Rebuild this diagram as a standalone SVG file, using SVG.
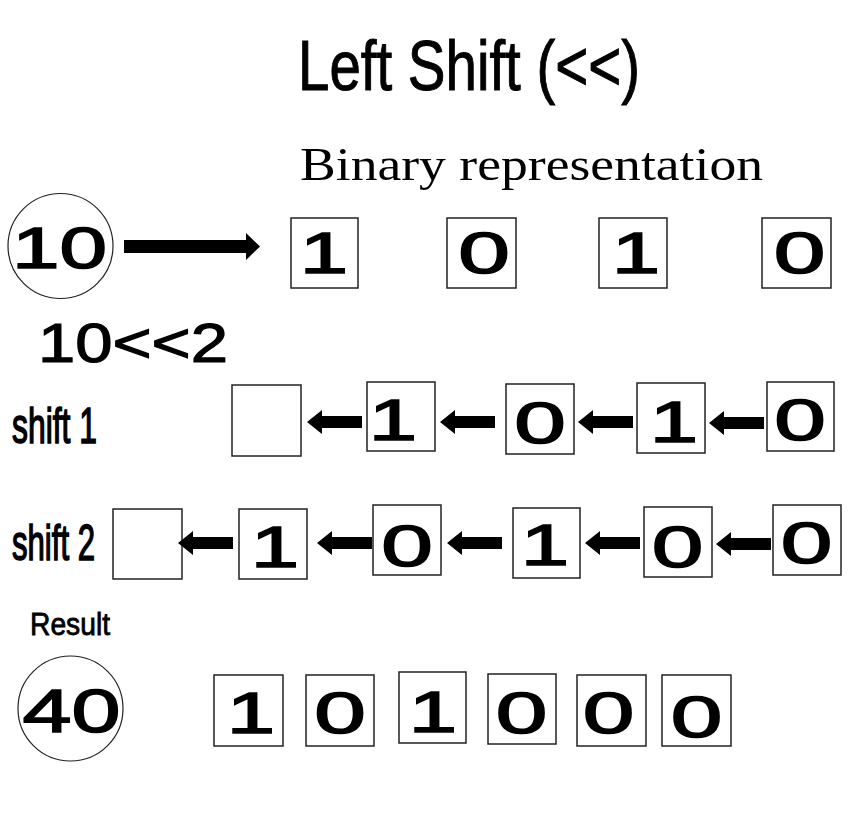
<svg xmlns="http://www.w3.org/2000/svg" width="867" height="823" viewBox="0 0 867 823">
<style>
.box{fill:#fff;stroke:#222;stroke-width:1.5}
.circ{fill:#fff;stroke:#222;stroke-width:1.2}
.d{font-family:"Liberation Sans",Arial,sans-serif;font-size:58px;text-anchor:middle;fill:#000;stroke:#000;stroke-width:1.5}
.lbl{font-family:"Liberation Sans",Arial,sans-serif;fill:#000}
.arr{fill:#000}
</style>
<defs>
<path id="la" d="M0,0 L15,-12 L15,-6 L55,-6 L55,6 L15,6 L15,12 Z"/>
</defs>
<rect width="867" height="823" fill="#fff"/>

<text id="title" class="lbl" x="298" y="90" font-size="70" stroke="#000" stroke-width="1" textLength="342" lengthAdjust="spacingAndGlyphs">Left Shift (&lt;&lt;)</text>
<text id="subtitle" x="300" y="180" font-family="'Liberation Serif','Times New Roman',serif" font-size="46" fill="#000" textLength="463" lengthAdjust="spacingAndGlyphs">Binary representation</text>

<g id="input">
<circle class="circ" cx="60.5" cy="246" r="52.5"/>
<text class="lbl" x="12" y="268" font-size="58" stroke="#000" stroke-width="1.5" textLength="95" lengthAdjust="spacingAndGlyphs">10</text>
</g>

<text id="expr" class="lbl" x="38" y="362" font-size="56" stroke="#000" stroke-width="1.2" textLength="190" lengthAdjust="spacingAndGlyphs">10&lt;&lt;2</text>
<text id="shift1" class="lbl" x="12" y="443" font-size="50" stroke="#000" stroke-width="1.6" textLength="85" lengthAdjust="spacingAndGlyphs">shift 1</text>
<text id="shift2" class="lbl" x="12" y="560" font-size="50" stroke="#000" stroke-width="1.6" textLength="83" lengthAdjust="spacingAndGlyphs">shift 2</text>
<text id="result" class="lbl" x="30" y="635" font-size="31" stroke="#000" stroke-width="0.8" textLength="80" lengthAdjust="spacingAndGlyphs">Result</text>

<g id="bin-1"><rect class="box" x="291" y="218" width="67" height="70"/><text class="d" transform="translate(324,273) scale(1.5,1)">1</text></g>
<g id="bin-2"><rect class="box" x="447" y="218" width="69" height="70"/><text class="d" transform="translate(484,273) scale(1.6,1)">0</text></g>
<g id="bin-3"><rect class="box" x="599" y="218" width="68" height="70"/><text class="d" transform="translate(636,273) scale(1.5,1)">1</text></g>
<g id="bin-4"><rect class="box" x="762" y="218" width="69" height="70"/><text class="d" transform="translate(799.5,273) scale(1.6,1)">0</text></g>

<g id="s1-0"><rect class="box" x="232" y="385" width="69" height="71"/></g>
<g id="s1-1"><rect class="box" x="367" y="382" width="68" height="69"/><text class="d" transform="translate(393,440) scale(1.5,1)">1</text></g>
<g id="s1-2"><rect class="box" x="506" y="384" width="68" height="70"/><text class="d" transform="translate(540,443) scale(1.6,1)">0</text></g>
<g id="s1-3"><rect class="box" x="637" y="383" width="68" height="70"/><text class="d" transform="translate(674,442) scale(1.5,1)">1</text></g>
<g id="s1-4"><rect class="box" x="767" y="382" width="67" height="69"/><text class="d" transform="translate(800,440) scale(1.6,1)">0</text></g>

<g id="s2-0"><rect class="box" x="113" y="509" width="69" height="70"/></g>
<g id="s2-1"><rect class="box" x="239" y="509" width="68" height="70"/><text class="d" transform="translate(275,567) scale(1.5,1)">1</text></g>
<g id="s2-2"><rect class="box" x="373" y="505" width="68" height="70"/><text class="d" transform="translate(407,566) scale(1.6,1)">0</text></g>
<g id="s2-3"><rect class="box" x="513" y="508" width="67" height="70"/><text class="d" transform="translate(545,565) scale(1.5,1)">1</text></g>
<g id="s2-4"><rect class="box" x="644" y="507" width="68" height="70"/><text class="d" transform="translate(677.5,567) scale(1.6,1)">0</text></g>
<g id="s2-5"><rect class="box" x="773" y="505" width="68" height="70"/><text class="d" transform="translate(806.5,563) scale(1.6,1)">0</text></g>

<g id="output">
<circle class="circ" cx="70.5" cy="708.5" r="52.5"/>
<text class="lbl" x="22.5" y="732" font-size="62" stroke="#000" stroke-width="1.5" textLength="98" lengthAdjust="spacingAndGlyphs">40</text>
</g>

<g id="r-1"><rect class="box" x="214" y="675" width="69" height="71"/><text class="d" transform="translate(251,733) scale(1.5,1)">1</text></g>
<g id="r-2"><rect class="box" x="306" y="675" width="68" height="71"/><text class="d" transform="translate(340,733) scale(1.6,1)">0</text></g>
<g id="r-3"><rect class="box" x="399" y="672" width="67" height="71"/><text class="d" transform="translate(433,732) scale(1.5,1)">1</text></g>
<g id="r-4"><rect class="box" x="488" y="674" width="68" height="70"/><text class="d" transform="translate(521.5,733) scale(1.6,1)">0</text></g>
<g id="r-5"><rect class="box" x="577" y="675" width="69" height="71"/><text class="d" transform="translate(608.5,733) scale(1.6,1)">0</text></g>
<g id="r-6"><rect class="box" x="662" y="675" width="69" height="71"/><text class="d" transform="translate(696.5,737) scale(1.6,1)">0</text></g>

<g id="connectors" class="arr">
<path d="M124,240 H246 V233 L260,246.5 L246,260 V253 H124 Z"/>
<use href="#la" x="307" y="422"/>
<use href="#la" x="440" y="422"/>
<use href="#la" x="578" y="422"/>
<use href="#la" x="709" y="423"/>
<use href="#la" x="178" y="543"/>
<use href="#la" x="317" y="543"/>
<use href="#la" x="447" y="543"/>
<use href="#la" x="585" y="543"/>
<use href="#la" x="716" y="544"/>
</g>
</svg>
